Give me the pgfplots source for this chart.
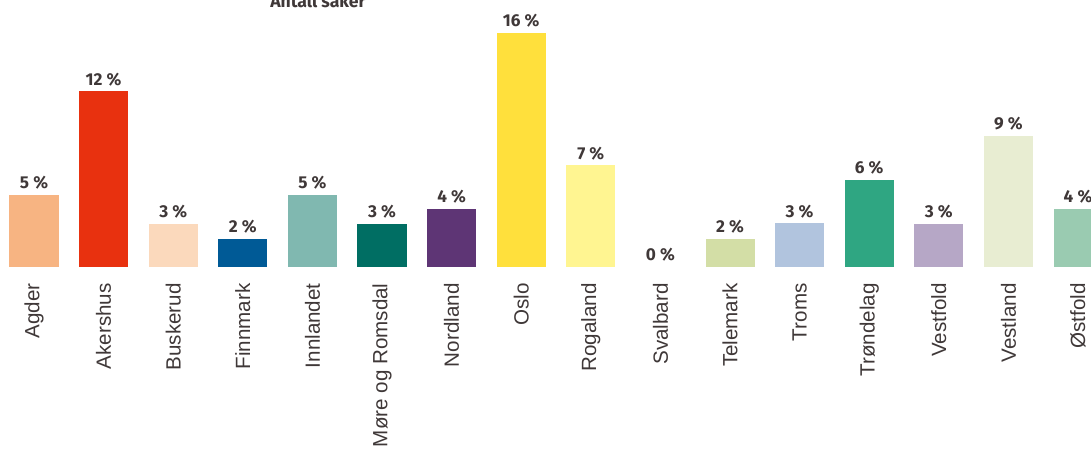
\documentclass[border=0pt]{standalone}
\usepackage{fontspec}
\setmainfont{Liberation Sans}
\newfontfamily\valfont{Fira Sans}
\usepackage{pgfplots}
\pgfplotsset{compat=1.18}

\definecolor{txt}{HTML}{3F3838}
\definecolor{cAgder}{HTML}{F7B482}
\definecolor{cAkershus}{HTML}{E8310F}
\definecolor{cBuskerud}{HTML}{FBD9BC}
\definecolor{cFinnmark}{HTML}{005A96}
\definecolor{cInnlandet}{HTML}{80B8B0}
\definecolor{cMore}{HTML}{006E63}
\definecolor{cNordland}{HTML}{5E3575}
\definecolor{cOslo}{HTML}{FFE03C}
\definecolor{cRogaland}{HTML}{FFF591}
\definecolor{cTelemark}{HTML}{D3DEA6}
\definecolor{cTroms}{HTML}{B1C4DE}
\definecolor{cTrondelag}{HTML}{2FA682}
\definecolor{cVestfold}{HTML}{B6A7C6}
\definecolor{cVestland}{HTML}{E8EDD2}
\definecolor{cOstfold}{HTML}{9ACBB1}

\begin{document}
\begin{tikzpicture}
\begin{axis}[
  at={(0,0)}, anchor=south west,
  scale only axis,
  width=545.5pt, height=133.5pt,
  xmin=-0.4885, xmax=15.187,
  ymin=0, ymax=18.26,
  ybar, bar width=24.5pt, bar shift=0pt,
  axis line style={draw=none},
  major tick length=0pt,
  ytick=\empty,
  xtick={0,...,15},
  xticklabels={Agder,Akershus,Buskerud,Finnmark,Innlandet,Møre og Romsdal,Nordland,Oslo,Rogaland,Svalbard,Telemark,Troms,Trøndelag,Vestfold,Vestland,Østfold},
  xticklabel style={rotate=90, anchor=east, inner sep=0pt, font=\fontsize{10.3}{12}\selectfont, text=txt},
  xticklabel shift=8pt,
  nodes near coords={\pgfmathprintnumber[fixed,precision=0,assume math mode=true]{\pgfplotspointmeta}~\%},
  nodes near coords style={anchor=south, inner sep=0pt, yshift=2.5pt, font=\valfont\bfseries\fontsize{8.6}{10}\selectfont, text=txt},
  every axis plot/.append style={draw=none},
]
\addplot[fill=cAgder] coordinates {(0,4.92)};
\addplot[fill=cAkershus] coordinates {(1,12.03)};
\addplot[fill=cBuskerud] coordinates {(2,2.94)};
\addplot[fill=cFinnmark] coordinates {(3,1.91)};
\addplot[fill=cInnlandet] coordinates {(4,4.92)};
\addplot[fill=cMore] coordinates {(5,2.94)};
\addplot[fill=cNordland] coordinates {(6,3.97)};
\addplot[fill=cOslo] coordinates {(7,16)};
\addplot[fill=cRogaland] coordinates {(8,6.97)};
\addplot[fill=none] coordinates {(9,0)};
\addplot[fill=cTelemark] coordinates {(10,1.91)};
\addplot[fill=cTroms] coordinates {(11,3.0)};
\addplot[fill=cTrondelag] coordinates {(12,5.95)};
\addplot[fill=cVestfold] coordinates {(13,2.94)};
\addplot[fill=cVestland] coordinates {(14,8.96)};
\addplot[fill=cOstfold] coordinates {(15,3.97)};
\end{axis}
\node[anchor=base, inner sep=0pt, text=txt, font=\valfont\bfseries\fontsize{8.8}{10}\selectfont] at (159pt,129.5pt) {Antall saker};
\pgfresetboundingbox
\path[use as bounding box] (0,-91.5pt) rectangle (545.5pt,133.5pt);
\end{tikzpicture}
\end{document}
